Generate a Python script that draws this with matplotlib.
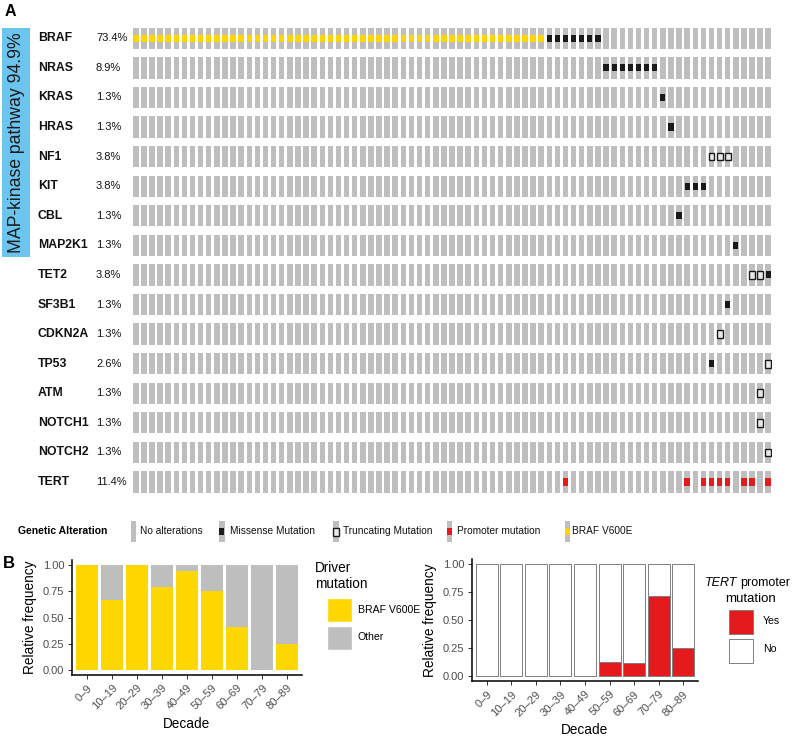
import matplotlib
matplotlib.use("Agg")
import matplotlib.pyplot as plt
from matplotlib.patches import Rectangle
from matplotlib.transforms import blended_transform_factory
import numpy as np

# ---------------- data ----------------
genes = ["BRAF", "NRAS", "KRAS", "HRAS", "NF1", "KIT", "CBL", "MAP2K1",
         "TET2", "SF3B1", "CDKN2A", "TP53", "ATM", "NOTCH1", "NOTCH2", "TERT"]
gene_pct = ["73.4%", "8.9%", "1.3%", "1.3%", "3.8%", "3.8%", "1.3%", "1.3%",
            "3.8%", "1.3%", "1.3%", "2.6%", "1.3%", "1.3%", "1.3%", "11.4%"]
# per-sample alteration code: . none, Y BRAF V600E, M missense, T truncating, P promoter
oncoprint = [
    "YYYYYYYYYYYYYYYYYYYYYYYYYYYYYYYYYYYYYYYYYYYYYYYYYYYMMMMMMM.....................",
    "..........................................................MMMMMMM..............",
    ".................................................................M.............",
    "..................................................................M............",
    ".......................................................................TTT.....",
    "....................................................................MMM........",
    "...................................................................M...........",
    "..........................................................................M....",
    "............................................................................TTM",
    ".........................................................................M.....",
    "........................................................................T......",
    ".......................................................................M......T",
    ".............................................................................T.",
    ".............................................................................T.",
    "..............................................................................T",
    ".....................................................P..............P.PPPP.PP.P",
]
pathway_label = "MAP-kinase pathway 94.9%"

decades = ["0\u20139", "10\u201319", "20\u201329", "30\u201339", "40\u201349",
           "50\u201359", "60\u201369", "70\u201379", "80\u201389"]
braf_v600e_frac = [1.0, 0.667, 1.0, 0.79, 0.94, 0.75, 0.41, 0.0, 0.25]
tert_yes_frac = [0.0, 0.0, 0.0, 0.0, 0.0, 0.125, 0.118, 0.714, 0.25]

# ---------------- style ----------------
W, H = 800, 741
plt.rcParams['font.family'] = ['Liberation Sans', 'DejaVu Sans']
GREY = "#BEBEBE"
YELLOW = "#FFD400"
RED = "#E41A1C"
BLACK = "#1A1A1A"
BLUE = "#6CC5EE"

fig = plt.figure(figsize=(W / 100, H / 100), dpi=100)


def fx(px):
    return px / W


def fy(py):
    return 1 - py / H


def add_axes_px(x0, y0, x1, y1):
    return fig.add_axes([fx(x0), fy(y1), (x1 - x0) / W, (y1 - y0) / H])


# ---------------- Panel A : oncoprint ----------------
n_samples = len(oncoprint[0])
ax = add_axes_px(131.7, 23.5, 772.3, 496.8)
ax.set_xlim(-0.5, n_samples - 0.5)
ax.set_ylim(len(genes) - 0.5, -0.5)
ax.axis("off")

cols = np.arange(n_samples)
for r, codes in enumerate(oncoprint):
    ax.bar(cols, 0.72, bottom=r - 0.36, width=0.68, color=GREY, linewidth=0)
    arr = np.array(list(codes))
    y_cols = cols[arr == "Y"]
    m_cols = cols[arr == "M"]
    t_cols = cols[arr == "T"]
    p_cols = cols[arr == "P"]
    if len(y_cols):
        ax.bar(y_cols, 0.24, bottom=r - 0.12, width=0.68, color=YELLOW, linewidth=0)
    if len(m_cols):
        ax.bar(m_cols, 0.24, bottom=r - 0.12, width=0.64, color=BLACK, linewidth=0)
    if len(t_cols):
        ax.bar(t_cols, 0.26, bottom=r - 0.13, width=0.72, color="#E8E8E8",
               edgecolor=BLACK, linewidth=1.0)
    if len(p_cols):
        ax.bar(p_cols, 0.24, bottom=r - 0.12, width=0.68, color=RED, linewidth=0)

tr = blended_transform_factory(fig.transFigure, ax.transData)
for r, (g, p) in enumerate(zip(genes, gene_pct)):
    ax.text(fx(38), r, g, transform=tr, ha="left", va="center",
            fontsize=8.8, fontweight="bold", color="#111111")
    ax.text(fx(96), r, p, transform=tr, ha="left", va="center",
            fontsize=8, color="#111111")

# pathway box
fig.add_artist(Rectangle((fx(2), fy(257)), (30.5 - 2) / W, (257 - 28) / H,
                         transform=fig.transFigure, facecolor=BLUE, edgecolor="none"))
fig.text(fx(16.5), fy(142.5), pathway_label, rotation=90, ha="center", va="center",
         fontsize=12.7, color="#1a1a1a")

fig.text(fx(5), fy(11), "A", fontsize=11.5, fontweight="bold", ha="left", va="center")

# legend for A
LEG_Y = 531.5
fig.text(fx(18), fy(LEG_Y), "Genetic Alteration", fontsize=7.5, fontweight="bold",
         ha="left", va="center")


def legend_icon(x0, kind):
    fig.add_artist(Rectangle((fx(x0), fy(LEG_Y + 10.5)), 5.5 / W, 21 / H,
                             transform=fig.transFigure, facecolor=GREY, edgecolor="none"))
    if kind == "M":
        fig.add_artist(Rectangle((fx(x0 + 0.3), fy(LEG_Y + 3.5)), 5 / W, 7 / H,
                                 transform=fig.transFigure, facecolor=BLACK, edgecolor="none"))
    elif kind == "T":
        fig.add_artist(Rectangle((fx(x0 - 0.4), fy(LEG_Y + 4)), 6.3 / W, 8 / H,
                                 transform=fig.transFigure, facecolor="#E8E8E8",
                                 edgecolor=BLACK, linewidth=1.0))
    elif kind == "P":
        fig.add_artist(Rectangle((fx(x0), fy(LEG_Y + 3.5)), 5.5 / W, 7 / H,
                                 transform=fig.transFigure, facecolor=RED, edgecolor="none"))
    elif kind == "Y":
        fig.add_artist(Rectangle((fx(x0), fy(LEG_Y + 3.5)), 5.5 / W, 7 / H,
                                 transform=fig.transFigure, facecolor=YELLOW, edgecolor="none"))


legend_items = [("No alterations", "N", 130.5, 140),
                ("Missense Mutation", "M", 219, 230),
                ("Truncating Mutation", "T", 333, 343),
                ("Promoter mutation", "P", 446.5, 457),
                ("BRAF V600E", "Y", 564.5, 572)]
for label, kind, ix, tx in legend_items:
    legend_icon(ix, kind)
    fig.text(fx(tx), fy(LEG_Y), label, fontsize=7.3, ha="left", va="center",
             color="#111111")

# ---------------- Panel B ----------------
fig.text(fx(3), fy(563), "B", fontsize=12, fontweight="bold", ha="left", va="center")

TICK_COL = "#4D4D4D"


def style_axes(a):
    a.set_xlim(-0.6, len(decades) - 0.4)
    a.set_ylim(-0.05, 1.05)
    for s in ["top", "right"]:
        a.spines[s].set_visible(False)
    for s in ["left", "bottom"]:
        a.spines[s].set_linewidth(1.1)
        a.spines[s].set_color("black")
    a.set_yticks([0, 0.25, 0.5, 0.75, 1.0])
    a.set_yticklabels(["0.00", "0.25", "0.50", "0.75", "1.00"])
    a.set_xticks(np.arange(len(decades)))
    a.set_xticklabels(decades, rotation=45, ha="right", va="top",
                      rotation_mode="anchor")
    a.tick_params(axis="both", length=3, width=0.7, color="#333333",
                  labelsize=8, labelcolor=TICK_COL, pad=2.5)
    a.set_ylabel("Relative frequency", fontsize=9.8, labelpad=4)
    a.set_xlabel("Decade", fontsize=9.8, labelpad=4)


xb = np.arange(len(decades))
braf = np.array(braf_v600e_frac)
axL = add_axes_px(72, 559.75, 302, 675.25)
axL.bar(xb, braf, width=0.9, color="#FFD700", linewidth=0)
axL.bar(xb, 1 - braf, bottom=braf, width=0.9, color=GREY, linewidth=0)
style_axes(axL)

tert = np.array(tert_yes_frac)
axR = add_axes_px(472, 558.8, 698, 681.3)
axR.bar(xb, tert, width=0.9, color=RED, edgecolor="#7F7F7F", linewidth=0.7)
axR.bar(xb, 1 - tert, bottom=tert, width=0.9, color="white", edgecolor="#7F7F7F",
        linewidth=0.7)
style_axes(axR)

# legend left
fig.text(fx(315), fy(567.5), "Driver", fontsize=9.8, ha="left", va="center")
fig.text(fx(315), fy(584), "mutation", fontsize=9.8, ha="left", va="center")
fig.add_artist(Rectangle((fx(327), fy(622)), 25 / W, 24 / H, transform=fig.transFigure,
                         facecolor="#FFD700", edgecolor="white", linewidth=1))
fig.add_artist(Rectangle((fx(327), fy(650)), 25 / W, 24 / H, transform=fig.transFigure,
                         facecolor=GREY, edgecolor="white", linewidth=1))
fig.text(fx(358), fy(610), "BRAF V600E", fontsize=7.6, ha="left", va="center")
fig.text(fx(358), fy(637.5), "Other", fontsize=7.6, ha="left", va="center")

# legend right
t_tert = fig.text(fx(705), fy(583), "TERT", fontsize=9.0, ha="left", va="center",
                  style="italic")
fig.canvas.draw()
bb = t_tert.get_window_extent(renderer=fig.canvas.get_renderer())
fig.text(bb.x1 / W + 2.5 / W, fy(583), "promoter", fontsize=9.0, ha="left", va="center")
fig.text(fx(751), fy(599.5), "mutation", fontsize=9.5, ha="center", va="center")
fig.add_artist(Rectangle((fx(729), fy(634)), 24 / W, 24 / H, transform=fig.transFigure,
                         facecolor=RED, edgecolor="#7F7F7F", linewidth=0.7))
fig.add_artist(Rectangle((fx(729), fy(662.5)), 24 / W, 24 / H, transform=fig.transFigure,
                         facecolor="white", edgecolor="#7F7F7F", linewidth=0.7))
fig.text(fx(763), fy(621.5), "Yes", fontsize=7.6, ha="left", va="center")
fig.text(fx(763), fy(649.5), "No", fontsize=7.6, ha="left", va="center")

fig.savefig("out.png", dpi=100)
